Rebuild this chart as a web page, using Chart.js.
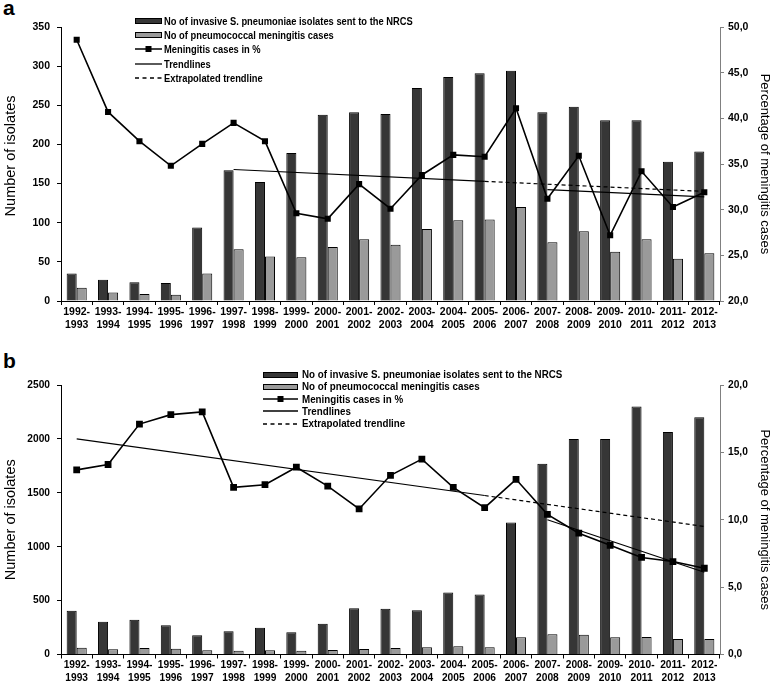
<!DOCTYPE html>
<html><head><meta charset="utf-8">
<script src="https://cdn.jsdelivr.net/npm/chart.js@4.4.1/dist/chart.umd.min.js"></script>
<style>
body{margin:0;background:#fff;width:778px;height:683px;position:relative;overflow:hidden;font-family:"Liberation Sans",Arial,sans-serif;color:#000}
.panel{position:absolute;left:0}
.lbl{position:absolute;left:3px;font-weight:bold;font-size:21px;line-height:21px}
.legend{position:absolute;font-weight:bold;white-space:nowrap}
.row{display:flex;align-items:center}
.row svg{flex:none;display:block}
.row span{display:inline-block;transform-origin:0 50%}
</style></head>
<body>
<div class="lbl" style="top:-3px">a</div>
<div class="lbl" style="top:350px">b</div>
<div class="panel" style="top:0;width:778px;height:340px"><canvas id="ca" width="778" height="340" style="width:778px;height:340px"></canvas></div>
<div class="panel" style="top:340px;width:778px;height:343px"><canvas id="cb" width="778" height="343" style="width:778px;height:343px"></canvas></div>

<div class="legend" id="lega" style="left:135px;top:13.4px;font-size:10.5px"></div>
<div class="legend" id="legb" style="left:263px;top:368.4px;font-size:10.2px"></div>

<script>
// ---- data ----
const categories = ['1992-1993','1993-1994','1994-1995','1995-1996','1996-1997','1997-1998','1998-1999','1999-2000','2000-2001','2001-2002','2002-2003','2003-2004','2004-2005','2005-2006','2006-2007','2007-2008','2008-2009','2009-2010','2010-2011','2011-2012','2012-2013'];

// panel a
const isolatesA = [35,27,24,23,94,167,152,189,238,241,239,272,286,291,294,241,248,231,231,178,191];
const meningA   = [17,11,9,8,35,66,57,56,69,79,72,92,103,104,120,75,89,63,79,54,61];
const pctA      = [48.6,40.7,37.5,34.8,37.2,39.5,37.5,29.6,29.0,32.8,30.1,33.8,36.0,35.8,41.1,31.2,35.9,27.2,34.2,30.3,31.9];
const trendA1   = [['1997-1998',34.4],['2005-2006',33.1]];
const extrapA   = [['2005-2006',33.1],['2012-2013',32.0]];
const trendA2   = [['2007-2008',32.2],['2012-2013',31.4]];
const leftTicksA  = {min:0, max:350, step:50};
const rightTicksA = {min:20, max:50, step:5};

// panel b
const isolatesB = [405,304,323,271,178,215,249,206,286,428,425,410,575,557,1225,1769,2000,2000,2300,2065,2200];
const meningB   = [63,48,60,54,39,35,39,35,42,51,60,67,76,67,160,188,183,160,162,143,143];
const pctB      = [13.7,14.1,17.1,17.8,18.0,12.4,12.6,13.9,12.5,10.8,13.3,14.5,12.4,10.9,13.0,10.4,9.0,8.1,7.2,6.9,6.4];
const trendB1   = [['1992-1993',16.0],['2005-2006',11.8]];
const extrapB   = [['2005-2006',11.8],['2012-2013',9.5]];
const trendB2   = [['2007-2008',10.0],['2012-2013',6.1]];
const leftTicksB  = {min:0, max:2500, step:500};
const rightTicksB = {min:0, max:20, step:5};

const legendTexts = ['No of invasive S. pneumoniae isolates sent to the NRCS','No of pneumococcal meningitis cases','Meningitis cases in %','Trendlines','Extrapolated trendline'];
const leftTitle = 'Number of isolates';
const rightTitle = 'Percentage of meningitis cases';

// ---- chart ----
Chart.defaults.font.family = '"Liberation Sans", Arial, sans-serif';
Chart.defaults.color = '#000';

const DARK = '#363636', LIGHT = '#9a9a9a';
const catLabels = categories.map(c => { const p = c.split('-'); return [p[0] + '-', p[1]]; });
const pts = arr => arr.map(([x, y]) => ({x: catLabels[categories.indexOf(x)], y}));

function build(id, o) {
  const tickFont = {size: o.tickSize, weight: 'bold'};
  new Chart(document.getElementById(id), {
    data: {
      labels: catLabels,
      datasets: [
        {type:'bar', data:o.iso, backgroundColor:DARK, borderColor:'#000', borderWidth:1, yAxisID:'y', order:4, categoryPercentage:0.64, barPercentage:1},
        {type:'bar', data:o.men, backgroundColor:LIGHT, borderColor:'#000', borderWidth:1, yAxisID:'y', order:5, categoryPercentage:0.64, barPercentage:1},
        {type:'line', data:pts(o.t1), yAxisID:'y1', borderColor:'#000', borderWidth:1.2, pointRadius:0, tension:0, order:3},
        {type:'line', data:pts(o.ex), yAxisID:'y1', borderColor:'#000', borderWidth:1.2, borderDash:[4,3], pointRadius:0, tension:0, order:3},
        {type:'line', data:pts(o.t2), yAxisID:'y1', borderColor:'#000', borderWidth:1.2, pointRadius:0, tension:0, order:3},
        {type:'line', data:o.pct, yAxisID:'y1', borderColor:'#000', borderWidth:1.6, pointStyle:'rect', pointRadius:o.pr, pointBackgroundColor:'#000', pointBorderColor:'#000', pointBorderWidth:0, tension:0, order:1}
      ]
    },
    options: {
      responsive:false, animation:false, devicePixelRatio:1,
      layout:{padding:{top:o.padTop, left:0, right:0, bottom:0}},
      plugins:{legend:{display:false}, tooltip:{enabled:false}},
      scales:{
        x:{type:'category', offset:true,
           ticks:{font:tickFont, padding:1, maxRotation:0, minRotation:0, autoSkip:false, color:'#000'},
           grid:{offset:true, drawOnChartArea:false, tickLength:4, color:'#000'},
           border:{color:'#000', width:1},
           afterFit:s=>{s.height = o.xH;}},
        y:{type:'linear', position:'left', min:o.lt.min, max:o.lt.max,
           ticks:{stepSize:o.lt.step, padding:7, font:tickFont, color:'#000', callback:v=>String(v)},
           grid:{drawOnChartArea:false, tickLength:4, color:'#000'},
           border:{color:'#000', width:1},
           title:{display:true, text:o.ltitle, font:{size:14.5}, color:'#000', padding:{top:2, bottom:0}},
           afterFit:s=>{s.width = 61;}},
        y1:{type:'linear', position:'right', min:o.rt.min, max:o.rt.max,
           ticks:{stepSize:o.rt.step, padding:4, font:tickFont, color:'#000', callback:v=>v.toFixed(1).replace('.', ',')},
           grid:{drawOnChartArea:false, tickLength:4, color:'#808080'},
           border:{color:'#808080', width:1},
           title:{display:true, text:rightTitle, font:{size:13}, color:'#000', padding:{top:6, bottom:0}},
           afterFit:s=>{s.width = 58;}}
      }
    }
  });
}

build('ca', {iso:isolatesA, men:meningA, pct:pctA, t1:trendA1, ex:extrapA, t2:trendA2, lt:leftTicksA, rt:rightTicksA,
  padTop:27, xH:39, tickSize:10.5, pr:4.3, ltitle:'    ' + leftTitle});
build('cb', {iso:isolatesB, men:meningB, pct:pctB, t1:trendB1, ex:extrapB, t2:trendB2, lt:leftTicksB, rt:rightTicksB,
  padTop:45, xH:28.5, tickSize:10.2, pr:4.8, ltitle:leftTitle});

// ---- legends ----
function swatches(w) {
  const m = w / 2;
  return [
    `<svg width="${w+1}" height="8"><rect x="0.5" y="1.5" width="${w-1}" height="5" fill="${DARK}" stroke="#000"/></svg>`,
    `<svg width="${w+1}" height="8"><rect x="0.5" y="1.5" width="${w-1}" height="5" fill="${LIGHT}" stroke="#000"/></svg>`,
    `<svg width="${w+1}" height="8"><line x1="0" y1="4" x2="${w}" y2="4" stroke="#000" stroke-width="1.5"/><rect x="${m-3}" y="1" width="6" height="6" fill="#000"/></svg>`,
    `<svg width="${w+1}" height="8"><line x1="0" y1="4" x2="${w}" y2="4" stroke="#000" stroke-width="1.3"/></svg>`,
    `<svg width="${w+1}" height="8"><line x1="0" y1="4" x2="${w}" y2="4" stroke="#000" stroke-width="1.3" stroke-dasharray="4,3.5"/></svg>`
  ];
}
function legend(id, w, rowH, gap, sx) {
  const sw = swatches(w);
  document.getElementById(id).innerHTML = legendTexts.map((t, i) =>
    `<div class="row" style="height:${rowH}px">${sw[i]}<span style="margin-left:${gap}px;transform:scaleX(${sx})">${t}</span></div>`).join('');
}
legend('lega', 27, 14.4, 1, 0.89);
legend('legb', 35, 12.25, 3, 0.96);
</script>
</body></html>
